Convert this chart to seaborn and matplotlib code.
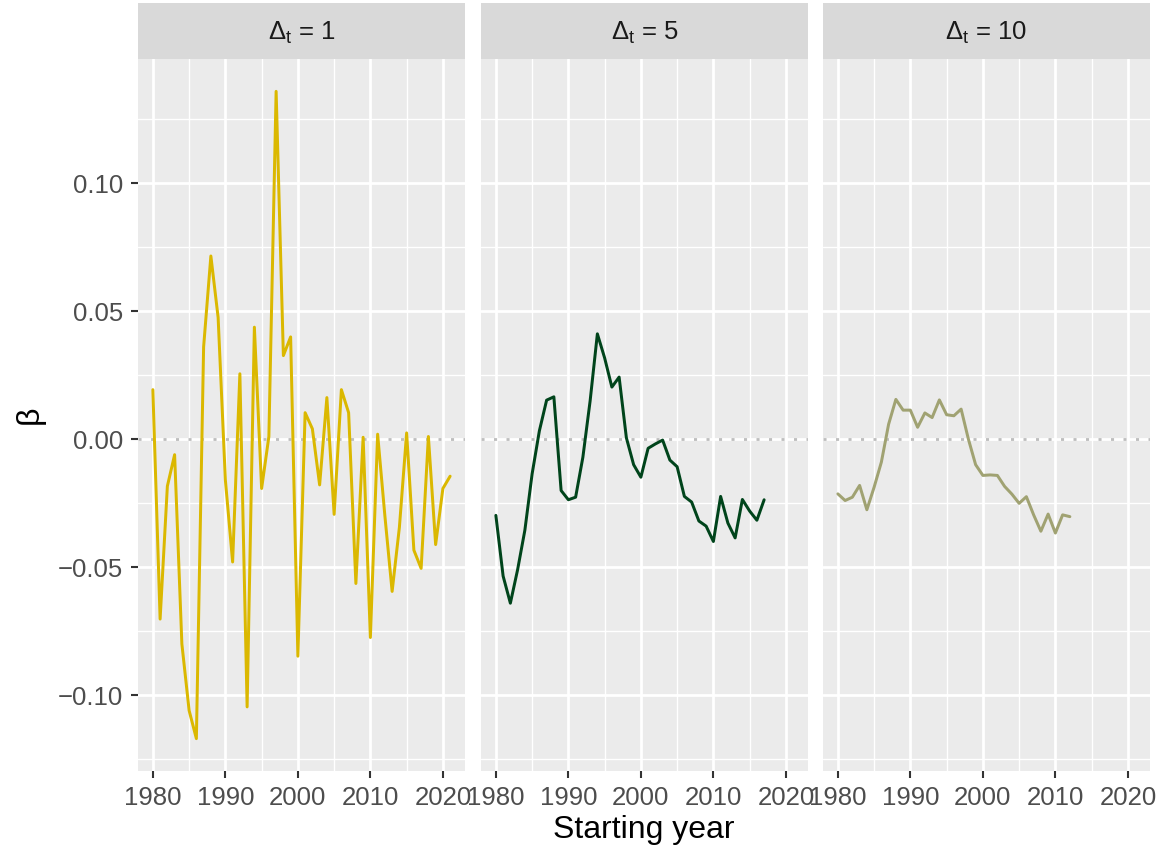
import matplotlib
matplotlib.use("Agg")
import matplotlib.pyplot as plt
from matplotlib.ticker import FixedLocator
import seaborn as sns
import pandas as pd

# ---- data -------------------------------------------------------------
years_1 = list(range(1980, 2022))
beta_1 = [0.0193, -0.0703, -0.0184, -0.0061, -0.0800, -0.1060, -0.1170, 0.0360, 0.0715, 0.0475,
          -0.0160, -0.0480, 0.0255, -0.1046, 0.0437, -0.0193, 0.0010, 0.1358, 0.0326, 0.0399,
          -0.0848, 0.0103, 0.0040, -0.0179, 0.0162, -0.0294, 0.0193, 0.0103, -0.0564, 0.0007,
          -0.0775, 0.0019, -0.0300, -0.0595, -0.0345, 0.0024, -0.0434, -0.0505, 0.0010, -0.0412,
          -0.0193, -0.0145]

years_5 = list(range(1980, 2018))
beta_5 = [-0.0298, -0.0535, -0.0641, -0.0510, -0.0356, -0.0136, 0.0032, 0.0152, 0.0165, -0.0201,
          -0.0237, -0.0227, -0.0071, 0.0149, 0.0411, 0.0317, 0.0203, 0.0242, 0.0005, -0.0100,
          -0.0149, -0.0036, -0.0019, -0.0004, -0.0082, -0.0108, -0.0224, -0.0246, -0.0320, -0.0340,
          -0.0400, -0.0224, -0.0328, -0.0386, -0.0236, -0.0281, -0.0317, -0.0237]

years_10 = list(range(1980, 2013))
beta_10 = [-0.0214, -0.0240, -0.0227, -0.0181, -0.0276, -0.0188, -0.0090, 0.0058, 0.0155, 0.0113,
           0.0113, 0.0046, 0.0102, 0.0084, 0.0153, 0.0095, 0.0091, 0.0117, 0.0000, -0.0100,
           -0.0142, -0.0140, -0.0142, -0.0185, -0.0215, -0.0251, -0.0225, -0.0296, -0.0360, -0.0293,
           -0.0367, -0.0296, -0.0303]

panel_labels = ["1", "5", "10"]
line_colors = ["#DBB800", "#00441B", "#A0A272"]

x_ticks = [1980, 1990, 2000, 2010, 2020]
y_ticks = [-0.10, -0.05, 0.00, 0.05, 0.10]
y_tick_labels = ["\u22120.10", "\u22120.05", "0.00", "0.05", "0.10"]

frames = [
    pd.DataFrame({"year": years_1, "beta": beta_1}),
    pd.DataFrame({"year": years_5, "beta": beta_5}),
    pd.DataFrame({"year": years_10, "beta": beta_10}),
]

# ---- style ------------------------------------------------------------
sns.set_theme(style="white")
plt.rcParams["font.family"] = ["Liberation Sans", "DejaVu Sans"]
plt.rcParams["mathtext.fontset"] = "custom"
plt.rcParams["mathtext.rm"] = "Liberation Sans"
plt.rcParams["mathtext.it"] = "Liberation Sans:italic"

W, H = 1169, 850
fig = plt.figure(figsize=(W / 100, H / 100), dpi=100)
fig.patch.set_facecolor("white")

panel_x = [(138, 465), (481, 808), (823, 1150)]
plot_top, plot_bottom = 59, 771
strip_top = 3

all_years = years_1 + years_5 + years_10
all_beta = beta_1 + beta_5 + beta_10
xr = max(all_years) - min(all_years)
yr = max(all_beta) - min(all_beta)
xlim = (min(all_years) - 0.05 * xr, max(all_years) + 0.05 * xr)
ylim = (min(all_beta) - 0.05 * yr, max(all_beta) + 0.05 * yr)

tick_color = "#333333"
label_color = "#4D4D4D"
fs_tick = 18.5
fs_title = 23

for i, (df, (x0, x1)) in enumerate(zip(frames, panel_x)):
    ax = fig.add_axes([x0 / W, (H - plot_bottom) / H, (x1 - x0) / W, (plot_bottom - plot_top) / H])
    ax.set_facecolor("#EBEBEB")
    for s in ax.spines.values():
        s.set_visible(False)
    ax.set_xlim(*xlim)
    ax.set_ylim(*ylim)

    ax.xaxis.set_major_locator(FixedLocator(x_ticks))
    ax.xaxis.set_minor_locator(FixedLocator([1975, 1985, 1995, 2005, 2015, 2025]))
    ax.yaxis.set_major_locator(FixedLocator(y_ticks))
    ax.yaxis.set_minor_locator(FixedLocator([-0.125, -0.075, -0.025, 0.025, 0.075, 0.125]))
    ax.grid(which="major", color="white", linewidth=2.0)
    ax.grid(which="minor", color="white", linewidth=1.0)
    ax.set_axisbelow(True)

    ax.axhline(0, color="#BEBEBE", linewidth=2.0, linestyle=(0, (1.1, 3.4)), zorder=1.5)

    sns.lineplot(data=df, x="year", y="beta", ax=ax, color=line_colors[i],
                 linewidth=2.15, zorder=3)

    ax.set_xticklabels([str(t) for t in x_ticks])
    ax.tick_params(axis="x", which="major", length=5, width=1.5, color=tick_color,
                   labelcolor=label_color, labelsize=fs_tick, pad=5.5, bottom=True)
    ax.tick_params(which="minor", length=0)
    if i == 0:
        ax.set_yticklabels(y_tick_labels)
        ax.tick_params(axis="y", which="major", length=5, width=1.5, color=tick_color,
                       labelcolor=label_color, labelsize=fs_tick, pad=5.5, left=True)
    else:
        ax.tick_params(axis="y", which="major", length=0, labelleft=False)
    ax.set_xlabel("")
    ax.set_ylabel("")

    # facet strip
    sax = fig.add_axes([x0 / W, (H - plot_top) / H, (x1 - x0) / W, (plot_top - strip_top) / H])
    sax.set_facecolor("#D9D9D9")
    sax.set_xticks([])
    sax.set_yticks([])
    for s in sax.spines.values():
        s.set_visible(False)
    sax.text(0.5, 0.47, "\u0394$_{\\mathrm{t}}$ = " + panel_labels[i], ha="center", va="center",
             fontsize=fs_tick, color="#1A1A1A", transform=sax.transAxes)

fig.text(((panel_x[0][0] + panel_x[2][1]) / 2) / W, 1 - 830 / H, "Starting year",
         ha="center", va="center", fontsize=fs_title, color="black")
fig.text(30 / W, 1 - ((plot_top + plot_bottom) / 2) / H, "\u03b2", rotation=90,
         ha="center", va="center", fontsize=fs_title, color="black")

fig.savefig("out.png", dpi=100, facecolor="white")
